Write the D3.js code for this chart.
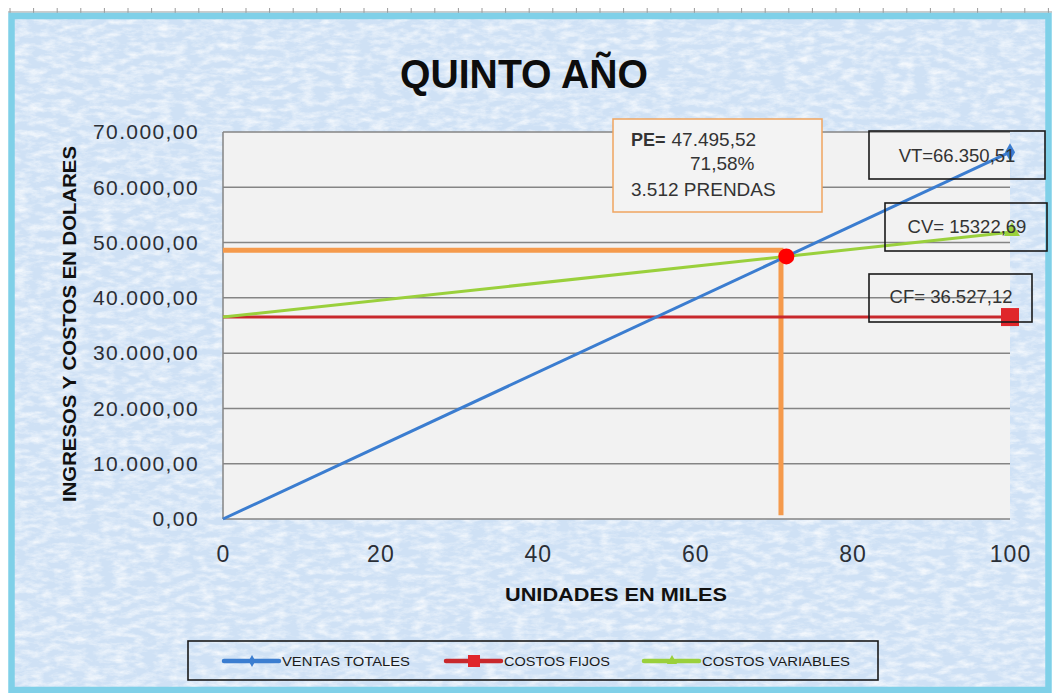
<!DOCTYPE html>
<html>
<head>
<meta charset="utf-8">
<script src="https://cdn.jsdelivr.net/npm/d3@7/dist/d3.min.js"></script>
<style>
  html, body { margin: 0; padding: 0; background: #ffffff; }
  svg { display: block; }
  text { font-family: "Liberation Sans", Arial, sans-serif; }
</style>
</head>
<body>
<svg id="chart" width="1052" height="693"></svg>
<script>
// Break-even chart, fifth year: units (thousands) vs income and costs (USD)
const units = [0, 100];
const ventasTotales = [0, 66350.51];
const costosFijos = [36527.12, 36527.12];
const costosVariables = [36527.12, 51849.81];

const peUnits = 71.58;
const peValue = 47495.52;
const guideUnits = [0, 70.9, 70.9];
const guideValues = [48600, 48600, 700];

const yTicks = [0, 10000, 20000, 30000, 40000, 50000, 60000, 70000];
const xTicks = [0, 20, 40, 60, 80, 100];

const seriesNames = ["VENTAS TOTALES", "COSTOS FIJOS", "COSTOS VARIABLES"];
const seriesColors = ["#3b7dd0", "#c8282c", "#9ad03c"];

const peLines = ["PE= 47.495,52", "71,58%", "3.512 PRENDAS"];
const endLabels = ["VT=66.350,51", "CV= 15322,69", "CF= 36.527,12"];

const locale = d3.formatLocale({ decimal: ",", thousands: ".", grouping: [3], currency: ["$", ""] });
const fmtY = locale.format(",.2f");

const svg = d3.select("#chart");
const W = 1052, H = 693;

// ---- paper texture for the chart background
const defs = svg.append("defs");
const f = defs.append("filter").attr("id", "paper")
  .attr("x", 0).attr("y", 0).attr("width", "100%").attr("height", "100%");
f.append("feTurbulence").attr("type", "fractalNoise")
  .attr("baseFrequency", "0.07 0.16").attr("numOctaves", 5).attr("seed", 11).attr("result", "n");
f.append("feColorMatrix").attr("in", "n").attr("type", "matrix")
  .attr("values", "0 0 0 0 1  0 0 0 0 1  0 0 0 0 1  2.0 0 0 0 -0.75");

// ruler strip along the top edge
svg.append("line").attr("x1", 8).attr("x2", W).attr("y1", 12).attr("y2", 12)
  .attr("stroke", "#9a9a9a").attr("stroke-width", 1.2);
svg.append("g").selectAll("line").data(d3.range(10, W, 23.6)).join("line")
  .attr("x1", d => d).attr("x2", d => d).attr("y1", 8).attr("y2", 14)
  .attr("stroke", "#9a9a9a").attr("stroke-width", 1);

// chart area
svg.append("rect").attr("x", 11.5).attr("y", 16).attr("width", 1037).attr("height", 674)
  .attr("fill", "#cfe1f5");
svg.append("rect").attr("x", 11.5).attr("y", 16).attr("width", 1037).attr("height", 674)
  .attr("fill", "#fff").attr("filter", "url(#paper)").attr("opacity", 0.75);
svg.append("rect").attr("x", 11.5).attr("y", 16).attr("width", 1037).attr("height", 674)
  .attr("fill", "none").attr("stroke", "#7fd0e8").attr("stroke-width", 6.5);

// ---- scales
const x = d3.scaleLinear().domain([0, 100]).range([223, 1010]);
const y = d3.scaleLinear().domain([0, 70000]).range([519, 132]);

// plot area
svg.append("rect").attr("x", x(0)).attr("y", y(70000))
  .attr("width", x(100) - x(0)).attr("height", y(0) - y(70000)).attr("fill", "#f2f2f2");

// gridlines
svg.append("g").selectAll("line").data(yTicks).join("line")
  .attr("x1", x(0)).attr("x2", x(100))
  .attr("y1", d => y(d)).attr("y2", d => y(d))
  .attr("stroke", "#858585").attr("stroke-width", 1.5);
svg.append("line").attr("x1", x(0)).attr("x2", x(0)).attr("y1", y(70000)).attr("y2", y(0))
  .attr("stroke", "#858585").attr("stroke-width", 1.5);

// axes
const yAxis = svg.append("g").attr("transform", `translate(${x(0)},0)`)
  .call(d3.axisLeft(y).tickValues(yTicks).tickSize(0).tickPadding(24).tickFormat(fmtY));
yAxis.select(".domain").remove();
yAxis.selectAll("text").attr("font-size", 21).attr("fill", "#2b2f36")
  .attr("letter-spacing", 1.4).attr("font-family", "'Liberation Sans', Arial, sans-serif");

const xAxis = svg.append("g").attr("transform", `translate(0,${y(0)})`)
  .call(d3.axisBottom(x).tickValues(xTicks).tickSize(0).tickPadding(27));
xAxis.select(".domain").remove();
xAxis.selectAll("text").attr("font-size", 23).attr("fill", "#2b2f36")
  .attr("letter-spacing", 1).attr("font-family", "'Liberation Sans', Arial, sans-serif");

// titles
svg.append("text").attr("x", 524).attr("y", 88).attr("text-anchor", "middle")
  .attr("font-family", "'Open Sans', 'Noto Sans', sans-serif").attr("font-weight", 600)
  .attr("font-size", 40).attr("fill", "#0d0d0d")
  .attr("textLength", 248).attr("lengthAdjust", "spacingAndGlyphs")
  .text("QUINTO AÑO");

svg.append("text").attr("transform", "translate(76,324) rotate(-90)").attr("text-anchor", "middle")
  .attr("font-family", "'Open Sans', 'Noto Sans', sans-serif").attr("font-weight", 700)
  .attr("font-size", 19).attr("fill", "#111")
  .attr("textLength", 356).attr("lengthAdjust", "spacingAndGlyphs")
  .text("INGRESOS  Y COSTOS  EN DOLARES");

svg.append("text").attr("x", 616).attr("y", 601).attr("text-anchor", "middle")
  .attr("font-family", "'Open Sans', 'Noto Sans', sans-serif").attr("font-weight", 600)
  .attr("font-size", 18).attr("fill", "#111")
  .attr("textLength", 222).attr("lengthAdjust", "spacingAndGlyphs")
  .text("UNIDADES  EN MILES");

// break-even guide lines
const line = d3.line().x(d => x(d[0])).y(d => y(d[1]));
svg.append("path").datum(d3.zip(guideUnits, guideValues))
  .attr("d", line).attr("fill", "none").attr("stroke", "#f59a4c").attr("stroke-width", 5);

// series
const series = [ventasTotales, costosFijos, costosVariables];
// drawing order: fixed costs, variable costs, total sales on top
[1, 2, 0].forEach(i => {
  svg.append("path").datum(d3.zip(units, series[i]))
    .attr("d", line).attr("fill", "none")
    .attr("stroke", seriesColors[i]).attr("stroke-width", 3);
});

// end markers
const last = units.length - 1;
const mx = x(units[last]);
svg.append("path").attr("d", d3.symbol(d3.symbolDiamond, 90)())
  .attr("transform", `translate(${mx},${y(ventasTotales[last])})`).attr("fill", seriesColors[0]);
svg.append("rect").attr("x", mx - 9).attr("y", y(costosFijos[last]) - 9)
  .attr("width", 18).attr("height", 18).attr("fill", "#e0262b");
svg.append("path").attr("d", d3.symbol(d3.symbolTriangle, 110)())
  .attr("transform", `translate(${mx + 2},${y(costosVariables[last]) - 1})`).attr("fill", seriesColors[2]);

// break-even point
svg.append("circle").attr("cx", x(peUnits)).attr("cy", y(peValue)).attr("r", 8).attr("fill", "#ff0000");

// break-even callout
svg.append("rect").attr("x", 613).attr("y", 119).attr("width", 209).attr("height", 93)
  .attr("fill", "#f3f3f3").attr("stroke", "#f0a560").attr("stroke-width", 1.5);
const peText = svg.append("text").attr("font-size", 19).attr("fill", "#333");
peText.append("tspan").attr("x", 631).attr("y", 146).attr("font-weight", 700).attr("font-size", 18).text("PE=");
peText.append("tspan").attr("dx", 6).text(peLines[0].replace("PE= ", ""));
svg.append("text").attr("x", 690).attr("y", 170).attr("font-size", 19).attr("fill", "#333").text(peLines[1]);
svg.append("text").attr("x", 631).attr("y", 196).attr("font-size", 19).attr("fill", "#333").text(peLines[2]);

// value callouts at the end of each series
const boxes = [
  { x: 869, y: 131, w: 176, h: 48, tx: 957, ty: 162 },
  { x: 885, y: 203, w: 162, h: 48, tx: 967, ty: 233 },
  { x: 869, y: 274, w: 163, h: 48, tx: 951, ty: 303 }
];
boxes.forEach((b, i) => {
  svg.append("rect").attr("x", b.x).attr("y", b.y).attr("width", b.w).attr("height", b.h)
    .attr("fill", "none").attr("stroke", "#1a1a1a").attr("stroke-width", 1.6);
  svg.append("text").attr("x", b.tx).attr("y", b.ty).attr("text-anchor", "middle")
    .attr("font-size", 18.5).attr("fill", "#333").text(endLabels[i]);
});

// legend
svg.append("rect").attr("x", 188).attr("y", 641).attr("width", 690).attr("height", 39)
  .attr("fill", "none").attr("stroke", "#1a1a1a").attr("stroke-width", 1.6);
const legendX = [224, 446, 644];
const legendW = [128, 106, 148];
seriesNames.forEach((name, i) => {
  const lx = legendX[i], ly = 661;
  svg.append("line").attr("x1", lx).attr("x2", lx + 55).attr("y1", ly).attr("y2", ly)
    .attr("stroke", seriesColors[i]).attr("stroke-width", 4.5).attr("stroke-linecap", "round");
  const cx = lx + 28;
  if (i === 0) {
    svg.append("path").attr("d", d3.symbol(d3.symbolDiamond, 40)())
      .attr("transform", `translate(${cx},${ly})`).attr("fill", seriesColors[0]);
  } else if (i === 1) {
    svg.append("rect").attr("x", cx - 6).attr("y", ly - 6).attr("width", 12).attr("height", 12)
      .attr("fill", "#e0262b");
  } else {
    svg.append("path").attr("d", d3.symbol(d3.symbolTriangle, 45)())
      .attr("transform", `translate(${cx},${ly})`).attr("fill", seriesColors[2]);
  }
  svg.append("text").attr("x", lx + 58).attr("y", ly + 5).attr("font-size", 13)
    .attr("fill", "#1a1a1a").attr("textLength", legendW[i]).attr("lengthAdjust", "spacingAndGlyphs")
    .text(name);
});
</script>
</body>
</html>
